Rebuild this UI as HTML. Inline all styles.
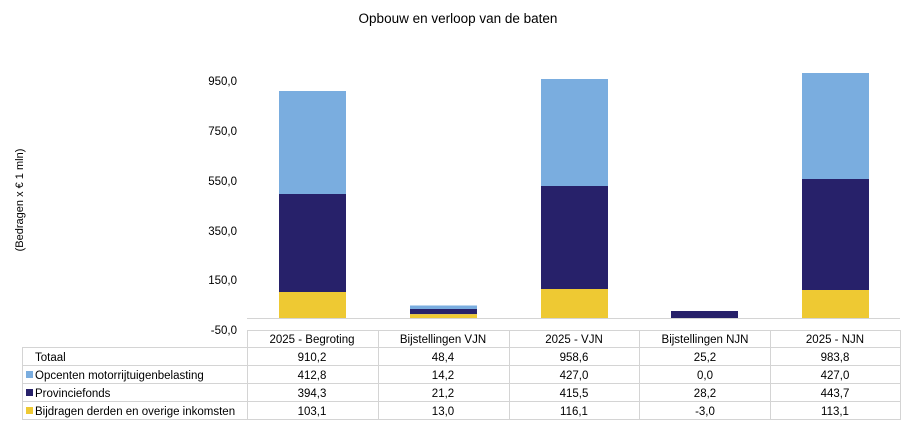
<!DOCTYPE html>
<html><head><meta charset="utf-8"><style>
body{margin:0;background:#fff;}
svg{display:block;font-family:"Liberation Sans",sans-serif;}
</style></head><body>
<svg width="916" height="426" viewBox="0 0 916 426" xmlns="http://www.w3.org/2000/svg">
<rect width="916" height="426" fill="#fff"/>
<text x="458" y="23" font-size="13.5" text-anchor="middle" fill="#000">Opbouw en verloop van de baten</text>
<text transform="translate(23,200) rotate(-90)" font-size="11" text-anchor="middle" fill="#000">(Bedragen x € 1 mln)</text>
<g font-size="11.5" text-anchor="end" fill="#000">
<text x="237" y="85">950,0</text>
<text x="237" y="135">750,0</text>
<text x="237" y="185">550,0</text>
<text x="237" y="235">350,0</text>
<text x="237" y="284">150,0</text>
<text x="237" y="334">-50,0</text>
</g>
<rect x="279" y="91" width="67" height="103" fill="#7aaddf"/>
<rect x="279" y="194" width="67" height="98" fill="#27216a"/>
<rect x="279" y="292" width="67" height="26" fill="#eec933"/>

<rect x="410" y="305.5" width="67" height="3.5" fill="#7aaddf"/>
<rect x="410" y="309" width="67" height="5.2" fill="#27216a"/>
<rect x="410" y="314.2" width="67" height="3.8" fill="#eec933"/>

<rect x="541" y="79" width="67" height="107" fill="#7aaddf"/>
<rect x="541" y="186" width="67" height="103" fill="#27216a"/>
<rect x="541" y="289" width="67" height="29" fill="#eec933"/>

<rect x="671" y="311" width="67" height="7" fill="#27216a"/>
<rect x="671" y="318" width="67" height="1" fill="#eec933"/>

<rect x="802" y="73" width="67" height="106" fill="#7aaddf"/>
<rect x="802" y="179" width="67" height="111" fill="#27216a"/>
<rect x="802" y="290" width="67" height="28" fill="#eec933"/>

<line x1="247" y1="318.5" x2="900" y2="318.5" stroke="#d4d4d4" stroke-width="1"/>
<g stroke="#d4d4d4" stroke-width="1" fill="none">
<line x1="247" y1="330.5" x2="900" y2="330.5"/>
<line x1="22" y1="347.5" x2="900" y2="347.5"/>
<line x1="22" y1="365.5" x2="900" y2="365.5"/>
<line x1="22" y1="383.5" x2="900" y2="383.5"/>
<line x1="22" y1="401.5" x2="900" y2="401.5"/>
<line x1="22" y1="419.5" x2="900" y2="419.5"/>
<line x1="22.5" y1="347" x2="22.5" y2="420"/>
<line x1="247.5" y1="330" x2="247.5" y2="420"/>
<line x1="378.5" y1="330" x2="378.5" y2="420"/>
<line x1="509.5" y1="330" x2="509.5" y2="420"/>
<line x1="639.5" y1="330" x2="639.5" y2="420"/>
<line x1="770.5" y1="330" x2="770.5" y2="420"/>
<line x1="900.5" y1="330" x2="900.5" y2="420"/>
</g>
<g font-size="11.5" fill="#000">
<text x="35" y="361">Totaal</text>
<rect x="26" y="371" width="7" height="7" fill="#7aaddf"/>
<text x="35" y="379">Opcenten motorrijtuigenbelasting</text>
<rect x="26" y="389" width="7" height="7" fill="#27216a"/>
<text x="35" y="397">Provinciefonds</text>
<rect x="26" y="407" width="7" height="7" fill="#eec933"/>
<text x="35" y="415">Bijdragen derden en overige inkomsten</text>
</g>
<g font-size="11.5" fill="#000" text-anchor="middle">
<text x="312" y="343">2025 - Begroting</text>
<text x="443" y="343">Bijstellingen VJN</text>
<text x="574" y="343">2025 - VJN</text>
<text x="705" y="343">Bijstellingen NJN</text>
<text x="835" y="343">2025 - NJN</text>

<text x="312" y="361">910,2</text><text x="443" y="361">48,4</text><text x="574" y="361">958,6</text><text x="705" y="361">25,2</text><text x="835" y="361">983,8</text>
<text x="312" y="379">412,8</text><text x="443" y="379">14,2</text><text x="574" y="379">427,0</text><text x="705" y="379">0,0</text><text x="835" y="379">427,0</text>
<text x="312" y="397">394,3</text><text x="443" y="397">21,2</text><text x="574" y="397">415,5</text><text x="705" y="397">28,2</text><text x="835" y="397">443,7</text>
<text x="312" y="415">103,1</text><text x="443" y="415">13,0</text><text x="574" y="415">116,1</text><text x="705" y="415">-3,0</text><text x="835" y="415">113,1</text>
</g>
</svg>
</body></html>
